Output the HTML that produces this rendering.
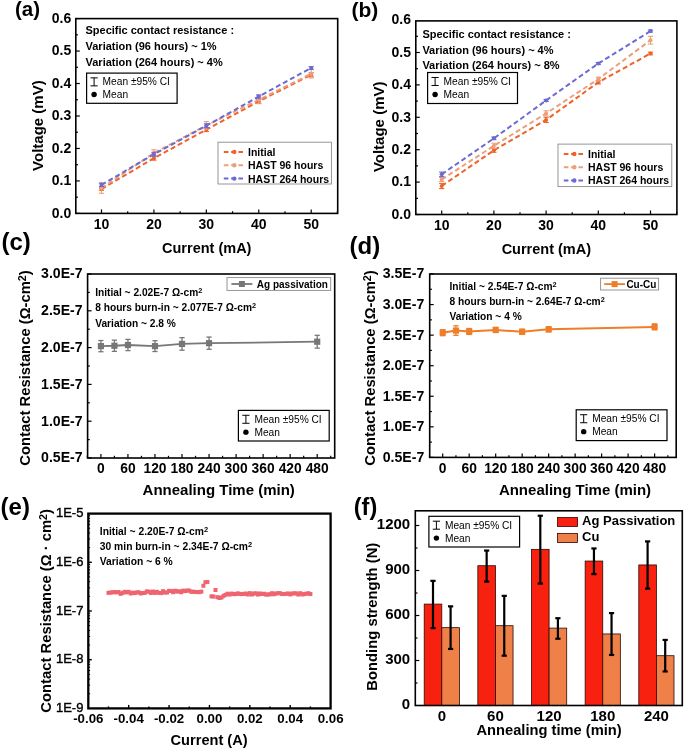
<!DOCTYPE html>
<html><head><meta charset="utf-8"><style>
html,body{margin:0;padding:0;background:#fff;width:685px;height:750px;overflow:hidden;}
body{position:relative;font-family:"Liberation Sans", sans-serif;}
</style></head><body>
<svg width="685" height="750" viewBox="0 0 685 750" style="position:absolute;left:0;top:0;will-change:transform">
<g font-family='"Liberation Sans", sans-serif'>
<path d="M101.50,189.05 L153.93,158.20 L206.35,129.63 L258.77,101.38 L311.20,74.75" fill="none" stroke="#F0622A" stroke-width="2" stroke-dasharray="5 3"/>
<path d="M101.50,188.07 L153.93,153.01 L206.35,125.41 L258.77,99.76 L311.20,73.78" fill="none" stroke="#EBA07C" stroke-width="2" stroke-dasharray="5 3"/>
<path d="M101.50,184.83 L153.93,154.30 L206.35,125.73 L258.77,96.51 L311.20,67.93" fill="none" stroke="#6A6AD2" stroke-width="2" stroke-dasharray="5 3"/>
<line x1="101.50" y1="187.75" x2="101.50" y2="190.35" stroke="#F0622A" stroke-width="1.1" />
<line x1="98.90" y1="187.75" x2="104.10" y2="187.75" stroke="#F0622A" stroke-width="1.1" />
<line x1="98.90" y1="190.35" x2="104.10" y2="190.35" stroke="#F0622A" stroke-width="1.1" />
<circle cx="101.50" cy="189.05" r="2" fill="#F0622A"/>
<line x1="153.93" y1="156.25" x2="153.93" y2="160.15" stroke="#F0622A" stroke-width="1.1" />
<line x1="151.33" y1="156.25" x2="156.53" y2="156.25" stroke="#F0622A" stroke-width="1.1" />
<line x1="151.33" y1="160.15" x2="156.53" y2="160.15" stroke="#F0622A" stroke-width="1.1" />
<circle cx="153.93" cy="158.20" r="2" fill="#F0622A"/>
<line x1="206.35" y1="127.68" x2="206.35" y2="131.58" stroke="#F0622A" stroke-width="1.1" />
<line x1="203.75" y1="127.68" x2="208.95" y2="127.68" stroke="#F0622A" stroke-width="1.1" />
<line x1="203.75" y1="131.58" x2="208.95" y2="131.58" stroke="#F0622A" stroke-width="1.1" />
<circle cx="206.35" cy="129.63" r="2" fill="#F0622A"/>
<line x1="258.77" y1="99.43" x2="258.77" y2="103.33" stroke="#F0622A" stroke-width="1.1" />
<line x1="256.17" y1="99.43" x2="261.38" y2="99.43" stroke="#F0622A" stroke-width="1.1" />
<line x1="256.17" y1="103.33" x2="261.38" y2="103.33" stroke="#F0622A" stroke-width="1.1" />
<circle cx="258.77" cy="101.38" r="2" fill="#F0622A"/>
<line x1="311.20" y1="72.80" x2="311.20" y2="76.70" stroke="#F0622A" stroke-width="1.1" />
<line x1="308.60" y1="72.80" x2="313.80" y2="72.80" stroke="#F0622A" stroke-width="1.1" />
<line x1="308.60" y1="76.70" x2="313.80" y2="76.70" stroke="#F0622A" stroke-width="1.1" />
<circle cx="311.20" cy="74.75" r="2" fill="#F0622A"/>
<line x1="101.50" y1="182.88" x2="101.50" y2="193.27" stroke="#EBA07C" stroke-width="1.1" />
<line x1="98.90" y1="182.88" x2="104.10" y2="182.88" stroke="#EBA07C" stroke-width="1.1" />
<line x1="98.90" y1="193.27" x2="104.10" y2="193.27" stroke="#EBA07C" stroke-width="1.1" />
<circle cx="101.50" cy="188.07" r="2" fill="#EBA07C"/>
<line x1="153.93" y1="149.76" x2="153.93" y2="156.25" stroke="#EBA07C" stroke-width="1.1" />
<line x1="151.33" y1="149.76" x2="156.53" y2="149.76" stroke="#EBA07C" stroke-width="1.1" />
<line x1="151.33" y1="156.25" x2="156.53" y2="156.25" stroke="#EBA07C" stroke-width="1.1" />
<circle cx="153.93" cy="153.01" r="2" fill="#EBA07C"/>
<line x1="206.35" y1="121.51" x2="206.35" y2="129.30" stroke="#EBA07C" stroke-width="1.1" />
<line x1="203.75" y1="121.51" x2="208.95" y2="121.51" stroke="#EBA07C" stroke-width="1.1" />
<line x1="203.75" y1="129.30" x2="208.95" y2="129.30" stroke="#EBA07C" stroke-width="1.1" />
<circle cx="206.35" cy="125.41" r="2" fill="#EBA07C"/>
<line x1="258.77" y1="95.86" x2="258.77" y2="103.65" stroke="#EBA07C" stroke-width="1.1" />
<line x1="256.17" y1="95.86" x2="261.38" y2="95.86" stroke="#EBA07C" stroke-width="1.1" />
<line x1="256.17" y1="103.65" x2="261.38" y2="103.65" stroke="#EBA07C" stroke-width="1.1" />
<circle cx="258.77" cy="99.76" r="2" fill="#EBA07C"/>
<line x1="311.20" y1="69.56" x2="311.20" y2="78.00" stroke="#EBA07C" stroke-width="1.1" />
<line x1="308.60" y1="69.56" x2="313.80" y2="69.56" stroke="#EBA07C" stroke-width="1.1" />
<line x1="308.60" y1="78.00" x2="313.80" y2="78.00" stroke="#EBA07C" stroke-width="1.1" />
<circle cx="311.20" cy="73.78" r="2" fill="#EBA07C"/>
<line x1="101.50" y1="183.20" x2="101.50" y2="186.45" stroke="#6A6AD2" stroke-width="1.1" />
<line x1="98.90" y1="183.20" x2="104.10" y2="183.20" stroke="#6A6AD2" stroke-width="1.1" />
<line x1="98.90" y1="186.45" x2="104.10" y2="186.45" stroke="#6A6AD2" stroke-width="1.1" />
<circle cx="101.50" cy="184.83" r="2" fill="#6A6AD2"/>
<line x1="153.93" y1="152.36" x2="153.93" y2="156.25" stroke="#6A6AD2" stroke-width="1.1" />
<line x1="151.33" y1="152.36" x2="156.53" y2="152.36" stroke="#6A6AD2" stroke-width="1.1" />
<line x1="151.33" y1="156.25" x2="156.53" y2="156.25" stroke="#6A6AD2" stroke-width="1.1" />
<circle cx="153.93" cy="154.30" r="2" fill="#6A6AD2"/>
<line x1="206.35" y1="123.78" x2="206.35" y2="127.68" stroke="#6A6AD2" stroke-width="1.1" />
<line x1="203.75" y1="123.78" x2="208.95" y2="123.78" stroke="#6A6AD2" stroke-width="1.1" />
<line x1="203.75" y1="127.68" x2="208.95" y2="127.68" stroke="#6A6AD2" stroke-width="1.1" />
<circle cx="206.35" cy="125.73" r="2" fill="#6A6AD2"/>
<line x1="258.77" y1="94.88" x2="258.77" y2="98.13" stroke="#6A6AD2" stroke-width="1.1" />
<line x1="256.17" y1="94.88" x2="261.38" y2="94.88" stroke="#6A6AD2" stroke-width="1.1" />
<line x1="256.17" y1="98.13" x2="261.38" y2="98.13" stroke="#6A6AD2" stroke-width="1.1" />
<circle cx="258.77" cy="96.51" r="2" fill="#6A6AD2"/>
<line x1="311.20" y1="66.64" x2="311.20" y2="69.23" stroke="#6A6AD2" stroke-width="1.1" />
<line x1="308.60" y1="66.64" x2="313.80" y2="66.64" stroke="#6A6AD2" stroke-width="1.1" />
<line x1="308.60" y1="69.23" x2="313.80" y2="69.23" stroke="#6A6AD2" stroke-width="1.1" />
<circle cx="311.20" cy="67.93" r="2" fill="#6A6AD2"/>
<rect x="75.80" y="18.60" width="261.90" height="194.80" fill="none" stroke="#000" stroke-width="1.6" />
<line x1="75.80" y1="213.40" x2="79.80" y2="213.40" stroke="#000" stroke-width="1.2" />
<line x1="75.80" y1="197.17" x2="78.00" y2="197.17" stroke="#000" stroke-width="1.2" />
<line x1="75.80" y1="180.93" x2="79.80" y2="180.93" stroke="#000" stroke-width="1.2" />
<line x1="75.80" y1="164.69" x2="78.00" y2="164.69" stroke="#000" stroke-width="1.2" />
<line x1="75.80" y1="148.46" x2="79.80" y2="148.46" stroke="#000" stroke-width="1.2" />
<line x1="75.80" y1="132.23" x2="78.00" y2="132.23" stroke="#000" stroke-width="1.2" />
<line x1="75.80" y1="115.99" x2="79.80" y2="115.99" stroke="#000" stroke-width="1.2" />
<line x1="75.80" y1="99.75" x2="78.00" y2="99.75" stroke="#000" stroke-width="1.2" />
<line x1="75.80" y1="83.52" x2="79.80" y2="83.52" stroke="#000" stroke-width="1.2" />
<line x1="75.80" y1="67.29" x2="78.00" y2="67.29" stroke="#000" stroke-width="1.2" />
<line x1="75.80" y1="51.05" x2="79.80" y2="51.05" stroke="#000" stroke-width="1.2" />
<line x1="75.80" y1="34.82" x2="78.00" y2="34.82" stroke="#000" stroke-width="1.2" />
<line x1="75.80" y1="18.58" x2="79.80" y2="18.58" stroke="#000" stroke-width="1.2" />
<line x1="101.50" y1="213.40" x2="101.50" y2="209.40" stroke="#000" stroke-width="1.2" />
<line x1="127.71" y1="213.40" x2="127.71" y2="211.20" stroke="#000" stroke-width="1.2" />
<line x1="153.93" y1="213.40" x2="153.93" y2="209.40" stroke="#000" stroke-width="1.2" />
<line x1="180.14" y1="213.40" x2="180.14" y2="211.20" stroke="#000" stroke-width="1.2" />
<line x1="206.35" y1="213.40" x2="206.35" y2="209.40" stroke="#000" stroke-width="1.2" />
<line x1="232.56" y1="213.40" x2="232.56" y2="211.20" stroke="#000" stroke-width="1.2" />
<line x1="258.77" y1="213.40" x2="258.77" y2="209.40" stroke="#000" stroke-width="1.2" />
<line x1="284.99" y1="213.40" x2="284.99" y2="211.20" stroke="#000" stroke-width="1.2" />
<line x1="311.20" y1="213.40" x2="311.20" y2="209.40" stroke="#000" stroke-width="1.2" />
<line x1="337.41" y1="213.40" x2="337.41" y2="211.20" stroke="#000" stroke-width="1.2" />
<text x="71.20" y="217.60" font-size="14" font-weight="bold" text-anchor="end" fill="#000" >0.0</text>
<text x="71.20" y="185.13" font-size="14" font-weight="bold" text-anchor="end" fill="#000" >0.1</text>
<text x="71.20" y="152.66" font-size="14" font-weight="bold" text-anchor="end" fill="#000" >0.2</text>
<text x="71.20" y="120.19" font-size="14" font-weight="bold" text-anchor="end" fill="#000" >0.3</text>
<text x="71.20" y="87.72" font-size="14" font-weight="bold" text-anchor="end" fill="#000" >0.4</text>
<text x="71.20" y="55.25" font-size="14" font-weight="bold" text-anchor="end" fill="#000" >0.5</text>
<text x="71.20" y="22.78" font-size="14" font-weight="bold" text-anchor="end" fill="#000" >0.6</text>
<text x="101.50" y="229.00" font-size="14" font-weight="bold" text-anchor="middle" fill="#000" >10</text>
<text x="153.93" y="229.00" font-size="14" font-weight="bold" text-anchor="middle" fill="#000" >20</text>
<text x="206.35" y="229.00" font-size="14" font-weight="bold" text-anchor="middle" fill="#000" >30</text>
<text x="258.77" y="229.00" font-size="14" font-weight="bold" text-anchor="middle" fill="#000" >40</text>
<text x="311.20" y="229.00" font-size="14" font-weight="bold" text-anchor="middle" fill="#000" >50</text>
<text x="206.75" y="252.70" font-size="14.5" font-weight="bold" text-anchor="middle" fill="#000" >Current (mA)</text>
<text x="43.30" y="125.60" font-size="15" font-weight="bold" text-anchor="middle" fill="#000" transform="rotate(-90 43.3 125.6)" >Voltage (mV)</text>
<text x="15.00" y="15.60" font-size="20.5" font-weight="bold" text-anchor="start" fill="#000" >(a)</text>
<text x="85.50" y="34.30" font-size="11" font-weight="bold" text-anchor="start" fill="#000" >Specific contact resistance :</text>
<text x="85.50" y="50.10" font-size="11" font-weight="bold" text-anchor="start" fill="#000" >Variation (96 hours) ~ 1%</text>
<text x="85.50" y="65.80" font-size="11" font-weight="bold" text-anchor="start" fill="#000" >Variation (264 hours) ~ 4%</text>
<rect x="86.60" y="73.10" width="90.50" height="30.20" fill="#fff" stroke="#000" stroke-width="1.2" />
<line x1="94.10" y1="77.86" x2="94.10" y2="85.86" stroke="#000" stroke-width="1" />
<line x1="90.50" y1="77.86" x2="97.70" y2="77.86" stroke="#000" stroke-width="1" />
<line x1="90.50" y1="85.86" x2="97.70" y2="85.86" stroke="#000" stroke-width="1" />
<circle cx="94.10" cy="94.54" r="2.7" fill="#000"/>
<text x="102.60" y="85.46" font-size="10.2"  text-anchor="start" fill="#000" >Mean ±95% CI</text>
<text x="102.60" y="98.14" font-size="10.2"  text-anchor="start" fill="#000" >Mean</text>
<rect x="218.00" y="142.20" width="113.40" height="41.80" fill="#fff" stroke="#8a8a8a" stroke-width="0.9" />
<path d="M223.80,151.90 H243.80" stroke="#F0622A" stroke-width="2" stroke-dasharray="4.6 2.7"/>
<circle cx="234.30" cy="151.90" r="2.2" fill="#F0622A"/>
<text x="248.00" y="155.80" font-size="10.5" font-weight="bold" text-anchor="start" fill="#000" >Initial</text>
<path d="M223.80,165.30 H243.80" stroke="#EBA07C" stroke-width="2" stroke-dasharray="4.6 2.7"/>
<circle cx="234.30" cy="165.30" r="2.2" fill="#EBA07C"/>
<text x="248.00" y="169.20" font-size="10.5" font-weight="bold" text-anchor="start" fill="#000" >HAST 96 hours</text>
<path d="M223.80,178.60 H243.80" stroke="#6A6AD2" stroke-width="2" stroke-dasharray="4.6 2.7"/>
<circle cx="234.30" cy="178.60" r="2.2" fill="#6A6AD2"/>
<text x="248.00" y="182.50" font-size="10.5" font-weight="bold" text-anchor="start" fill="#000" >HAST 264 hours</text>
<path d="M441.70,185.99 L493.90,150.35 L546.10,119.89 L598.30,82.31 L650.50,53.47" fill="none" stroke="#F0622A" stroke-width="2" stroke-dasharray="5 3"/>
<path d="M441.70,179.51 L493.90,145.81 L546.10,113.41 L598.30,79.07 L650.50,40.19" fill="none" stroke="#EBA07C" stroke-width="2" stroke-dasharray="5 3"/>
<path d="M441.70,174.32 L493.90,138.36 L546.10,100.45 L598.30,63.52 L650.50,31.12" fill="none" stroke="#6A6AD2" stroke-width="2" stroke-dasharray="5 3"/>
<line x1="441.70" y1="183.40" x2="441.70" y2="188.58" stroke="#F0622A" stroke-width="1.1" />
<line x1="439.10" y1="183.40" x2="444.30" y2="183.40" stroke="#F0622A" stroke-width="1.1" />
<line x1="439.10" y1="188.58" x2="444.30" y2="188.58" stroke="#F0622A" stroke-width="1.1" />
<circle cx="441.70" cy="185.99" r="2" fill="#F0622A"/>
<line x1="493.90" y1="148.40" x2="493.90" y2="152.29" stroke="#F0622A" stroke-width="1.1" />
<line x1="491.30" y1="148.40" x2="496.50" y2="148.40" stroke="#F0622A" stroke-width="1.1" />
<line x1="491.30" y1="152.29" x2="496.50" y2="152.29" stroke="#F0622A" stroke-width="1.1" />
<circle cx="493.90" cy="150.35" r="2" fill="#F0622A"/>
<line x1="546.10" y1="117.30" x2="546.10" y2="122.48" stroke="#F0622A" stroke-width="1.1" />
<line x1="543.50" y1="117.30" x2="548.70" y2="117.30" stroke="#F0622A" stroke-width="1.1" />
<line x1="543.50" y1="122.48" x2="548.70" y2="122.48" stroke="#F0622A" stroke-width="1.1" />
<circle cx="546.10" cy="119.89" r="2" fill="#F0622A"/>
<line x1="598.30" y1="80.69" x2="598.30" y2="83.93" stroke="#F0622A" stroke-width="1.1" />
<line x1="595.70" y1="80.69" x2="600.90" y2="80.69" stroke="#F0622A" stroke-width="1.1" />
<line x1="595.70" y1="83.93" x2="600.90" y2="83.93" stroke="#F0622A" stroke-width="1.1" />
<circle cx="598.30" cy="82.31" r="2" fill="#F0622A"/>
<line x1="650.50" y1="52.18" x2="650.50" y2="54.77" stroke="#F0622A" stroke-width="1.1" />
<line x1="647.90" y1="52.18" x2="653.10" y2="52.18" stroke="#F0622A" stroke-width="1.1" />
<line x1="647.90" y1="54.77" x2="653.10" y2="54.77" stroke="#F0622A" stroke-width="1.1" />
<circle cx="650.50" cy="53.47" r="2" fill="#F0622A"/>
<line x1="441.70" y1="177.56" x2="441.70" y2="181.45" stroke="#EBA07C" stroke-width="1.1" />
<line x1="439.10" y1="177.56" x2="444.30" y2="177.56" stroke="#EBA07C" stroke-width="1.1" />
<line x1="439.10" y1="181.45" x2="444.30" y2="181.45" stroke="#EBA07C" stroke-width="1.1" />
<circle cx="441.70" cy="179.51" r="2" fill="#EBA07C"/>
<line x1="493.90" y1="143.22" x2="493.90" y2="148.40" stroke="#EBA07C" stroke-width="1.1" />
<line x1="491.30" y1="143.22" x2="496.50" y2="143.22" stroke="#EBA07C" stroke-width="1.1" />
<line x1="491.30" y1="148.40" x2="496.50" y2="148.40" stroke="#EBA07C" stroke-width="1.1" />
<circle cx="493.90" cy="145.81" r="2" fill="#EBA07C"/>
<line x1="546.10" y1="110.82" x2="546.10" y2="116.00" stroke="#EBA07C" stroke-width="1.1" />
<line x1="543.50" y1="110.82" x2="548.70" y2="110.82" stroke="#EBA07C" stroke-width="1.1" />
<line x1="543.50" y1="116.00" x2="548.70" y2="116.00" stroke="#EBA07C" stroke-width="1.1" />
<circle cx="546.10" cy="113.41" r="2" fill="#EBA07C"/>
<line x1="598.30" y1="77.12" x2="598.30" y2="81.01" stroke="#EBA07C" stroke-width="1.1" />
<line x1="595.70" y1="77.12" x2="600.90" y2="77.12" stroke="#EBA07C" stroke-width="1.1" />
<line x1="595.70" y1="81.01" x2="600.90" y2="81.01" stroke="#EBA07C" stroke-width="1.1" />
<circle cx="598.30" cy="79.07" r="2" fill="#EBA07C"/>
<line x1="650.50" y1="36.30" x2="650.50" y2="44.08" stroke="#EBA07C" stroke-width="1.1" />
<line x1="647.90" y1="36.30" x2="653.10" y2="36.30" stroke="#EBA07C" stroke-width="1.1" />
<line x1="647.90" y1="44.08" x2="653.10" y2="44.08" stroke="#EBA07C" stroke-width="1.1" />
<circle cx="650.50" cy="40.19" r="2" fill="#EBA07C"/>
<line x1="441.70" y1="172.06" x2="441.70" y2="176.59" stroke="#6A6AD2" stroke-width="1.1" />
<line x1="439.10" y1="172.06" x2="444.30" y2="172.06" stroke="#6A6AD2" stroke-width="1.1" />
<line x1="439.10" y1="176.59" x2="444.30" y2="176.59" stroke="#6A6AD2" stroke-width="1.1" />
<circle cx="441.70" cy="174.32" r="2" fill="#6A6AD2"/>
<line x1="493.90" y1="137.06" x2="493.90" y2="139.66" stroke="#6A6AD2" stroke-width="1.1" />
<line x1="491.30" y1="137.06" x2="496.50" y2="137.06" stroke="#6A6AD2" stroke-width="1.1" />
<line x1="491.30" y1="139.66" x2="496.50" y2="139.66" stroke="#6A6AD2" stroke-width="1.1" />
<circle cx="493.90" cy="138.36" r="2" fill="#6A6AD2"/>
<line x1="546.10" y1="99.48" x2="546.10" y2="101.42" stroke="#6A6AD2" stroke-width="1.1" />
<line x1="543.50" y1="99.48" x2="548.70" y2="99.48" stroke="#6A6AD2" stroke-width="1.1" />
<line x1="543.50" y1="101.42" x2="548.70" y2="101.42" stroke="#6A6AD2" stroke-width="1.1" />
<circle cx="546.10" cy="100.45" r="2" fill="#6A6AD2"/>
<line x1="598.30" y1="62.54" x2="598.30" y2="64.49" stroke="#6A6AD2" stroke-width="1.1" />
<line x1="595.70" y1="62.54" x2="600.90" y2="62.54" stroke="#6A6AD2" stroke-width="1.1" />
<line x1="595.70" y1="64.49" x2="600.90" y2="64.49" stroke="#6A6AD2" stroke-width="1.1" />
<circle cx="598.30" cy="63.52" r="2" fill="#6A6AD2"/>
<line x1="650.50" y1="30.14" x2="650.50" y2="32.09" stroke="#6A6AD2" stroke-width="1.1" />
<line x1="647.90" y1="30.14" x2="653.10" y2="30.14" stroke="#6A6AD2" stroke-width="1.1" />
<line x1="647.90" y1="32.09" x2="653.10" y2="32.09" stroke="#6A6AD2" stroke-width="1.1" />
<circle cx="650.50" cy="31.12" r="2" fill="#6A6AD2"/>
<rect x="415.80" y="20.90" width="261.10" height="193.60" fill="none" stroke="#000" stroke-width="1.6" />
<line x1="415.80" y1="214.50" x2="419.80" y2="214.50" stroke="#000" stroke-width="1.2" />
<line x1="415.80" y1="198.30" x2="418.00" y2="198.30" stroke="#000" stroke-width="1.2" />
<line x1="415.80" y1="182.10" x2="419.80" y2="182.10" stroke="#000" stroke-width="1.2" />
<line x1="415.80" y1="165.90" x2="418.00" y2="165.90" stroke="#000" stroke-width="1.2" />
<line x1="415.80" y1="149.70" x2="419.80" y2="149.70" stroke="#000" stroke-width="1.2" />
<line x1="415.80" y1="133.50" x2="418.00" y2="133.50" stroke="#000" stroke-width="1.2" />
<line x1="415.80" y1="117.30" x2="419.80" y2="117.30" stroke="#000" stroke-width="1.2" />
<line x1="415.80" y1="101.10" x2="418.00" y2="101.10" stroke="#000" stroke-width="1.2" />
<line x1="415.80" y1="84.90" x2="419.80" y2="84.90" stroke="#000" stroke-width="1.2" />
<line x1="415.80" y1="68.70" x2="418.00" y2="68.70" stroke="#000" stroke-width="1.2" />
<line x1="415.80" y1="52.50" x2="419.80" y2="52.50" stroke="#000" stroke-width="1.2" />
<line x1="415.80" y1="36.30" x2="418.00" y2="36.30" stroke="#000" stroke-width="1.2" />
<line x1="415.60" y1="214.50" x2="415.60" y2="212.30" stroke="#000" stroke-width="1.2" />
<line x1="441.70" y1="214.50" x2="441.70" y2="210.50" stroke="#000" stroke-width="1.2" />
<line x1="467.80" y1="214.50" x2="467.80" y2="212.30" stroke="#000" stroke-width="1.2" />
<line x1="493.90" y1="214.50" x2="493.90" y2="210.50" stroke="#000" stroke-width="1.2" />
<line x1="520.00" y1="214.50" x2="520.00" y2="212.30" stroke="#000" stroke-width="1.2" />
<line x1="546.10" y1="214.50" x2="546.10" y2="210.50" stroke="#000" stroke-width="1.2" />
<line x1="572.20" y1="214.50" x2="572.20" y2="212.30" stroke="#000" stroke-width="1.2" />
<line x1="598.30" y1="214.50" x2="598.30" y2="210.50" stroke="#000" stroke-width="1.2" />
<line x1="624.40" y1="214.50" x2="624.40" y2="212.30" stroke="#000" stroke-width="1.2" />
<line x1="650.50" y1="214.50" x2="650.50" y2="210.50" stroke="#000" stroke-width="1.2" />
<line x1="676.60" y1="214.50" x2="676.60" y2="212.30" stroke="#000" stroke-width="1.2" />
<text x="411.00" y="218.70" font-size="14" font-weight="bold" text-anchor="end" fill="#000" >0.0</text>
<text x="411.00" y="186.30" font-size="14" font-weight="bold" text-anchor="end" fill="#000" >0.1</text>
<text x="411.00" y="153.90" font-size="14" font-weight="bold" text-anchor="end" fill="#000" >0.2</text>
<text x="411.00" y="121.50" font-size="14" font-weight="bold" text-anchor="end" fill="#000" >0.3</text>
<text x="411.00" y="89.10" font-size="14" font-weight="bold" text-anchor="end" fill="#000" >0.4</text>
<text x="411.00" y="56.70" font-size="14" font-weight="bold" text-anchor="end" fill="#000" >0.5</text>
<text x="411.00" y="24.30" font-size="14" font-weight="bold" text-anchor="end" fill="#000" >0.6</text>
<text x="441.70" y="230.00" font-size="14" font-weight="bold" text-anchor="middle" fill="#000" >10</text>
<text x="493.90" y="230.00" font-size="14" font-weight="bold" text-anchor="middle" fill="#000" >20</text>
<text x="546.10" y="230.00" font-size="14" font-weight="bold" text-anchor="middle" fill="#000" >30</text>
<text x="598.30" y="230.00" font-size="14" font-weight="bold" text-anchor="middle" fill="#000" >40</text>
<text x="650.50" y="230.00" font-size="14" font-weight="bold" text-anchor="middle" fill="#000" >50</text>
<text x="546.35" y="253.50" font-size="14.5" font-weight="bold" text-anchor="middle" fill="#000" >Current (mA)</text>
<text x="384.00" y="126.80" font-size="15" font-weight="bold" text-anchor="middle" fill="#000" transform="rotate(-90 384 126.8)" >Voltage (mV)</text>
<text x="351.50" y="16.50" font-size="21" font-weight="bold" text-anchor="start" fill="#000" >(b)</text>
<text x="422.40" y="37.90" font-size="11" font-weight="bold" text-anchor="start" fill="#000" >Specific contact resistance :</text>
<text x="422.40" y="53.60" font-size="11" font-weight="bold" text-anchor="start" fill="#000" >Variation (96 hours) ~ 4%</text>
<text x="422.40" y="69.40" font-size="11" font-weight="bold" text-anchor="start" fill="#000" >Variation (264 hours) ~ 8%</text>
<rect x="427.60" y="72.50" width="89.90" height="31.00" fill="#fff" stroke="#000" stroke-width="1.2" />
<line x1="435.10" y1="77.49" x2="435.10" y2="85.49" stroke="#000" stroke-width="1" />
<line x1="431.50" y1="77.49" x2="438.70" y2="77.49" stroke="#000" stroke-width="1" />
<line x1="431.50" y1="85.49" x2="438.70" y2="85.49" stroke="#000" stroke-width="1" />
<circle cx="435.10" cy="94.51" r="2.7" fill="#000"/>
<text x="443.60" y="85.09" font-size="10.2"  text-anchor="start" fill="#000" >Mean ±95% CI</text>
<text x="443.60" y="98.11" font-size="10.2"  text-anchor="start" fill="#000" >Mean</text>
<rect x="558.00" y="144.10" width="113.80" height="42.50" fill="#fff" stroke="#8a8a8a" stroke-width="0.9" />
<path d="M563.80,154.00 H583.80" stroke="#F0622A" stroke-width="2" stroke-dasharray="4.6 2.7"/>
<circle cx="574.30" cy="154.00" r="2.2" fill="#F0622A"/>
<text x="588.00" y="157.90" font-size="10.5" font-weight="bold" text-anchor="start" fill="#000" >Initial</text>
<path d="M563.80,167.30 H583.80" stroke="#EBA07C" stroke-width="2" stroke-dasharray="4.6 2.7"/>
<circle cx="574.30" cy="167.30" r="2.2" fill="#EBA07C"/>
<text x="588.00" y="171.20" font-size="10.5" font-weight="bold" text-anchor="start" fill="#000" >HAST 96 hours</text>
<path d="M563.80,180.50 H583.80" stroke="#6A6AD2" stroke-width="2" stroke-dasharray="4.6 2.7"/>
<circle cx="574.30" cy="180.50" r="2.2" fill="#6A6AD2"/>
<text x="588.00" y="184.40" font-size="10.5" font-weight="bold" text-anchor="start" fill="#000" >HAST 264 hours</text>
<path d="M100.90,346.13 L114.42,345.76 L127.94,345.02 L154.97,346.13 L182.01,343.92 L209.05,343.18 L317.20,341.71" fill="none" stroke="#777777" stroke-width="1.8"/>
<line x1="100.90" y1="340.53" x2="100.90" y2="351.73" stroke="#777777" stroke-width="1.3" />
<line x1="98.30" y1="340.53" x2="103.50" y2="340.53" stroke="#777777" stroke-width="1.3" />
<line x1="98.30" y1="351.73" x2="103.50" y2="351.73" stroke="#777777" stroke-width="1.3" />
<rect x="97.80" y="343.03" width="6.2" height="6.2" fill="#777777"/>
<line x1="114.42" y1="340.16" x2="114.42" y2="351.36" stroke="#777777" stroke-width="1.3" />
<line x1="111.82" y1="340.16" x2="117.02" y2="340.16" stroke="#777777" stroke-width="1.3" />
<line x1="111.82" y1="351.36" x2="117.02" y2="351.36" stroke="#777777" stroke-width="1.3" />
<rect x="111.32" y="342.66" width="6.2" height="6.2" fill="#777777"/>
<line x1="127.94" y1="339.42" x2="127.94" y2="350.62" stroke="#777777" stroke-width="1.3" />
<line x1="125.34" y1="339.42" x2="130.54" y2="339.42" stroke="#777777" stroke-width="1.3" />
<line x1="125.34" y1="350.62" x2="130.54" y2="350.62" stroke="#777777" stroke-width="1.3" />
<rect x="124.84" y="341.92" width="6.2" height="6.2" fill="#777777"/>
<line x1="154.97" y1="340.73" x2="154.97" y2="351.53" stroke="#777777" stroke-width="1.3" />
<line x1="152.38" y1="340.73" x2="157.57" y2="340.73" stroke="#777777" stroke-width="1.3" />
<line x1="152.38" y1="351.53" x2="157.57" y2="351.53" stroke="#777777" stroke-width="1.3" />
<rect x="151.88" y="343.03" width="6.2" height="6.2" fill="#777777"/>
<line x1="182.01" y1="337.62" x2="182.01" y2="350.22" stroke="#777777" stroke-width="1.3" />
<line x1="179.41" y1="337.62" x2="184.61" y2="337.62" stroke="#777777" stroke-width="1.3" />
<line x1="179.41" y1="350.22" x2="184.61" y2="350.22" stroke="#777777" stroke-width="1.3" />
<rect x="178.91" y="340.82" width="6.2" height="6.2" fill="#777777"/>
<line x1="209.05" y1="337.08" x2="209.05" y2="349.28" stroke="#777777" stroke-width="1.3" />
<line x1="206.45" y1="337.08" x2="211.65" y2="337.08" stroke="#777777" stroke-width="1.3" />
<line x1="206.45" y1="349.28" x2="211.65" y2="349.28" stroke="#777777" stroke-width="1.3" />
<rect x="205.95" y="340.08" width="6.2" height="6.2" fill="#777777"/>
<line x1="317.20" y1="335.31" x2="317.20" y2="348.11" stroke="#777777" stroke-width="1.3" />
<line x1="314.60" y1="335.31" x2="319.80" y2="335.31" stroke="#777777" stroke-width="1.3" />
<line x1="314.60" y1="348.11" x2="319.80" y2="348.11" stroke="#777777" stroke-width="1.3" />
<rect x="314.10" y="338.61" width="6.2" height="6.2" fill="#777777"/>
<rect x="87.60" y="274.00" width="247.10" height="184.00" fill="none" stroke="#000" stroke-width="1.6" />
<line x1="87.60" y1="458.00" x2="91.60" y2="458.00" stroke="#000" stroke-width="1.2" />
<text x="82.60" y="462.40" font-size="14.1" font-weight="bold" text-anchor="end" fill="#000" >0.5E-7</text>
<line x1="87.60" y1="439.60" x2="89.80" y2="439.60" stroke="#000" stroke-width="1.2" />
<line x1="87.60" y1="421.20" x2="91.60" y2="421.20" stroke="#000" stroke-width="1.2" />
<text x="82.60" y="425.60" font-size="14.1" font-weight="bold" text-anchor="end" fill="#000" >1.0E-7</text>
<line x1="87.60" y1="402.80" x2="89.80" y2="402.80" stroke="#000" stroke-width="1.2" />
<line x1="87.60" y1="384.40" x2="91.60" y2="384.40" stroke="#000" stroke-width="1.2" />
<text x="82.60" y="388.80" font-size="14.1" font-weight="bold" text-anchor="end" fill="#000" >1.5E-7</text>
<line x1="87.60" y1="366.00" x2="89.80" y2="366.00" stroke="#000" stroke-width="1.2" />
<line x1="87.60" y1="347.60" x2="91.60" y2="347.60" stroke="#000" stroke-width="1.2" />
<text x="82.60" y="352.00" font-size="14.1" font-weight="bold" text-anchor="end" fill="#000" >2.0E-7</text>
<line x1="87.60" y1="329.20" x2="89.80" y2="329.20" stroke="#000" stroke-width="1.2" />
<line x1="87.60" y1="310.80" x2="91.60" y2="310.80" stroke="#000" stroke-width="1.2" />
<text x="82.60" y="315.20" font-size="14.1" font-weight="bold" text-anchor="end" fill="#000" >2.5E-7</text>
<line x1="87.60" y1="292.40" x2="89.80" y2="292.40" stroke="#000" stroke-width="1.2" />
<line x1="87.60" y1="274.00" x2="91.60" y2="274.00" stroke="#000" stroke-width="1.2" />
<text x="82.60" y="278.40" font-size="14.1" font-weight="bold" text-anchor="end" fill="#000" >3.0E-7</text>
<line x1="87.38" y1="458.00" x2="87.38" y2="455.80" stroke="#000" stroke-width="1.2" />
<line x1="100.90" y1="458.00" x2="100.90" y2="454.00" stroke="#000" stroke-width="1.2" />
<line x1="114.42" y1="458.00" x2="114.42" y2="455.80" stroke="#000" stroke-width="1.2" />
<line x1="127.94" y1="458.00" x2="127.94" y2="454.00" stroke="#000" stroke-width="1.2" />
<line x1="141.46" y1="458.00" x2="141.46" y2="455.80" stroke="#000" stroke-width="1.2" />
<line x1="154.97" y1="458.00" x2="154.97" y2="454.00" stroke="#000" stroke-width="1.2" />
<line x1="168.49" y1="458.00" x2="168.49" y2="455.80" stroke="#000" stroke-width="1.2" />
<line x1="182.01" y1="458.00" x2="182.01" y2="454.00" stroke="#000" stroke-width="1.2" />
<line x1="195.53" y1="458.00" x2="195.53" y2="455.80" stroke="#000" stroke-width="1.2" />
<line x1="209.05" y1="458.00" x2="209.05" y2="454.00" stroke="#000" stroke-width="1.2" />
<line x1="222.57" y1="458.00" x2="222.57" y2="455.80" stroke="#000" stroke-width="1.2" />
<line x1="236.09" y1="458.00" x2="236.09" y2="454.00" stroke="#000" stroke-width="1.2" />
<line x1="249.61" y1="458.00" x2="249.61" y2="455.80" stroke="#000" stroke-width="1.2" />
<line x1="263.12" y1="458.00" x2="263.12" y2="454.00" stroke="#000" stroke-width="1.2" />
<line x1="276.64" y1="458.00" x2="276.64" y2="455.80" stroke="#000" stroke-width="1.2" />
<line x1="290.16" y1="458.00" x2="290.16" y2="454.00" stroke="#000" stroke-width="1.2" />
<line x1="303.68" y1="458.00" x2="303.68" y2="455.80" stroke="#000" stroke-width="1.2" />
<line x1="317.20" y1="458.00" x2="317.20" y2="454.00" stroke="#000" stroke-width="1.2" />
<line x1="330.72" y1="458.00" x2="330.72" y2="455.80" stroke="#000" stroke-width="1.2" />
<text x="100.90" y="473.00" font-size="13.8" font-weight="bold" text-anchor="middle" fill="#000" >0</text>
<text x="127.94" y="473.00" font-size="13.8" font-weight="bold" text-anchor="middle" fill="#000" >60</text>
<text x="154.97" y="473.00" font-size="13.8" font-weight="bold" text-anchor="middle" fill="#000" >120</text>
<text x="182.01" y="473.00" font-size="13.8" font-weight="bold" text-anchor="middle" fill="#000" >180</text>
<text x="209.05" y="473.00" font-size="13.8" font-weight="bold" text-anchor="middle" fill="#000" >240</text>
<text x="236.09" y="473.00" font-size="13.8" font-weight="bold" text-anchor="middle" fill="#000" >300</text>
<text x="263.12" y="473.00" font-size="13.8" font-weight="bold" text-anchor="middle" fill="#000" >360</text>
<text x="290.16" y="473.00" font-size="13.8" font-weight="bold" text-anchor="middle" fill="#000" >420</text>
<text x="317.20" y="473.00" font-size="13.8" font-weight="bold" text-anchor="middle" fill="#000" >480</text>
<text x="218.70" y="495.30" font-size="15" font-weight="bold" text-anchor="middle" fill="#000" >Annealing Time (min)</text>
<text x="30.30" y="368.00" font-size="14.8" font-weight="bold" text-anchor="middle" fill="#000" transform="rotate(-90 30.3 368)" >Contact Resistance (Ω-cm<tspan font-size="10.66" dy="-4.44">2</tspan><tspan dy="4.44">)</tspan></text>
<text x="1.50" y="250.20" font-size="24" font-weight="bold" text-anchor="start" fill="#000" >(c)</text>
<text x="95.20" y="295.70" font-size="10.2" font-weight="bold" text-anchor="start" fill="#000" >Initial ~ 2.02E-7 Ω-cm<tspan font-size="7.34" dy="-3.06">2</tspan></text>
<text x="95.20" y="310.90" font-size="10.2" font-weight="bold" text-anchor="start" fill="#000" >8 hours burn-in ~ 2.077E-7 Ω-cm<tspan font-size="7.34" dy="-3.06">2</tspan></text>
<text x="95.20" y="326.60" font-size="10.2" font-weight="bold" text-anchor="start" fill="#000" >Variation ~ 2.8 %</text>
<rect x="238.40" y="410.40" width="90.80" height="30.60" fill="#fff" stroke="#000" stroke-width="1.2" />
<line x1="245.90" y1="415.27" x2="245.90" y2="423.27" stroke="#000" stroke-width="1" />
<line x1="242.30" y1="415.27" x2="249.50" y2="415.27" stroke="#000" stroke-width="1" />
<line x1="242.30" y1="423.27" x2="249.50" y2="423.27" stroke="#000" stroke-width="1" />
<circle cx="245.90" cy="432.13" r="2.7" fill="#000"/>
<text x="254.40" y="422.87" font-size="10.2"  text-anchor="start" fill="#000" >Mean ±95% CI</text>
<text x="254.40" y="435.73" font-size="10.2"  text-anchor="start" fill="#000" >Mean</text>
<rect x="227.00" y="277.60" width="103.70" height="12.80" fill="#fff" stroke="#8a8a8a" stroke-width="0.9" />
<line x1="231.40" y1="284.00" x2="252.40" y2="284.00" stroke="#777777" stroke-width="1.8" />
<rect x="238.90" y="281.00" width="6" height="6" fill="#777777"/>
<text x="256.80" y="287.60" font-size="10" font-weight="bold" text-anchor="start" fill="#000" >Ag passivation</text>
<path d="M442.70,332.69 L455.94,330.55 L469.19,331.47 L495.68,329.94 L522.16,331.77 L548.65,329.33 L654.60,326.88" fill="none" stroke="#F07D28" stroke-width="2"/>
<line x1="442.70" y1="329.69" x2="442.70" y2="335.69" stroke="#F07D28" stroke-width="1.3" />
<line x1="440.10" y1="329.69" x2="445.30" y2="329.69" stroke="#F07D28" stroke-width="1.3" />
<line x1="440.10" y1="335.69" x2="445.30" y2="335.69" stroke="#F07D28" stroke-width="1.3" />
<rect x="439.60" y="329.59" width="6.2" height="6.2" fill="#F07D28"/>
<line x1="455.94" y1="325.75" x2="455.94" y2="335.35" stroke="#F07D28" stroke-width="1.3" />
<line x1="453.34" y1="325.75" x2="458.54" y2="325.75" stroke="#F07D28" stroke-width="1.3" />
<line x1="453.34" y1="335.35" x2="458.54" y2="335.35" stroke="#F07D28" stroke-width="1.3" />
<rect x="452.84" y="327.45" width="6.2" height="6.2" fill="#F07D28"/>
<line x1="469.19" y1="328.47" x2="469.19" y2="334.47" stroke="#F07D28" stroke-width="1.3" />
<line x1="466.59" y1="328.47" x2="471.79" y2="328.47" stroke="#F07D28" stroke-width="1.3" />
<line x1="466.59" y1="334.47" x2="471.79" y2="334.47" stroke="#F07D28" stroke-width="1.3" />
<rect x="466.09" y="328.37" width="6.2" height="6.2" fill="#F07D28"/>
<line x1="495.68" y1="327.44" x2="495.68" y2="332.44" stroke="#F07D28" stroke-width="1.3" />
<line x1="493.07" y1="327.44" x2="498.28" y2="327.44" stroke="#F07D28" stroke-width="1.3" />
<line x1="493.07" y1="332.44" x2="498.28" y2="332.44" stroke="#F07D28" stroke-width="1.3" />
<rect x="492.57" y="326.84" width="6.2" height="6.2" fill="#F07D28"/>
<line x1="522.16" y1="329.27" x2="522.16" y2="334.27" stroke="#F07D28" stroke-width="1.3" />
<line x1="519.56" y1="329.27" x2="524.76" y2="329.27" stroke="#F07D28" stroke-width="1.3" />
<line x1="519.56" y1="334.27" x2="524.76" y2="334.27" stroke="#F07D28" stroke-width="1.3" />
<rect x="519.06" y="328.67" width="6.2" height="6.2" fill="#F07D28"/>
<line x1="548.65" y1="326.83" x2="548.65" y2="331.83" stroke="#F07D28" stroke-width="1.3" />
<line x1="546.05" y1="326.83" x2="551.25" y2="326.83" stroke="#F07D28" stroke-width="1.3" />
<line x1="546.05" y1="331.83" x2="551.25" y2="331.83" stroke="#F07D28" stroke-width="1.3" />
<rect x="545.55" y="326.23" width="6.2" height="6.2" fill="#F07D28"/>
<line x1="654.60" y1="323.88" x2="654.60" y2="329.88" stroke="#F07D28" stroke-width="1.3" />
<line x1="652.00" y1="323.88" x2="657.20" y2="323.88" stroke="#F07D28" stroke-width="1.3" />
<line x1="652.00" y1="329.88" x2="657.20" y2="329.88" stroke="#F07D28" stroke-width="1.3" />
<rect x="651.50" y="323.78" width="6.2" height="6.2" fill="#F07D28"/>
<rect x="429.70" y="274.00" width="246.50" height="183.40" fill="none" stroke="#000" stroke-width="1.6" />
<line x1="429.70" y1="457.40" x2="433.70" y2="457.40" stroke="#000" stroke-width="1.2" />
<text x="424.30" y="461.80" font-size="14.1" font-weight="bold" text-anchor="end" fill="#000" >0.5E-7</text>
<line x1="429.70" y1="442.12" x2="431.90" y2="442.12" stroke="#000" stroke-width="1.2" />
<line x1="429.70" y1="426.83" x2="433.70" y2="426.83" stroke="#000" stroke-width="1.2" />
<text x="424.30" y="431.23" font-size="14.1" font-weight="bold" text-anchor="end" fill="#000" >1.0E-7</text>
<line x1="429.70" y1="411.55" x2="431.90" y2="411.55" stroke="#000" stroke-width="1.2" />
<line x1="429.70" y1="396.27" x2="433.70" y2="396.27" stroke="#000" stroke-width="1.2" />
<text x="424.30" y="400.67" font-size="14.1" font-weight="bold" text-anchor="end" fill="#000" >1.5E-7</text>
<line x1="429.70" y1="380.98" x2="431.90" y2="380.98" stroke="#000" stroke-width="1.2" />
<line x1="429.70" y1="365.70" x2="433.70" y2="365.70" stroke="#000" stroke-width="1.2" />
<text x="424.30" y="370.10" font-size="14.1" font-weight="bold" text-anchor="end" fill="#000" >2.0E-7</text>
<line x1="429.70" y1="350.42" x2="431.90" y2="350.42" stroke="#000" stroke-width="1.2" />
<line x1="429.70" y1="335.13" x2="433.70" y2="335.13" stroke="#000" stroke-width="1.2" />
<text x="424.30" y="339.53" font-size="14.1" font-weight="bold" text-anchor="end" fill="#000" >2.5E-7</text>
<line x1="429.70" y1="319.85" x2="431.90" y2="319.85" stroke="#000" stroke-width="1.2" />
<line x1="429.70" y1="304.57" x2="433.70" y2="304.57" stroke="#000" stroke-width="1.2" />
<text x="424.30" y="308.97" font-size="14.1" font-weight="bold" text-anchor="end" fill="#000" >3.0E-7</text>
<line x1="429.70" y1="289.28" x2="431.90" y2="289.28" stroke="#000" stroke-width="1.2" />
<line x1="429.70" y1="274.00" x2="433.70" y2="274.00" stroke="#000" stroke-width="1.2" />
<text x="424.30" y="278.40" font-size="14.1" font-weight="bold" text-anchor="end" fill="#000" >3.5E-7</text>
<line x1="429.46" y1="457.40" x2="429.46" y2="455.20" stroke="#000" stroke-width="1.2" />
<line x1="442.70" y1="457.40" x2="442.70" y2="453.40" stroke="#000" stroke-width="1.2" />
<line x1="455.94" y1="457.40" x2="455.94" y2="455.20" stroke="#000" stroke-width="1.2" />
<line x1="469.19" y1="457.40" x2="469.19" y2="453.40" stroke="#000" stroke-width="1.2" />
<line x1="482.43" y1="457.40" x2="482.43" y2="455.20" stroke="#000" stroke-width="1.2" />
<line x1="495.68" y1="457.40" x2="495.68" y2="453.40" stroke="#000" stroke-width="1.2" />
<line x1="508.92" y1="457.40" x2="508.92" y2="455.20" stroke="#000" stroke-width="1.2" />
<line x1="522.16" y1="457.40" x2="522.16" y2="453.40" stroke="#000" stroke-width="1.2" />
<line x1="535.41" y1="457.40" x2="535.41" y2="455.20" stroke="#000" stroke-width="1.2" />
<line x1="548.65" y1="457.40" x2="548.65" y2="453.40" stroke="#000" stroke-width="1.2" />
<line x1="561.89" y1="457.40" x2="561.89" y2="455.20" stroke="#000" stroke-width="1.2" />
<line x1="575.14" y1="457.40" x2="575.14" y2="453.40" stroke="#000" stroke-width="1.2" />
<line x1="588.38" y1="457.40" x2="588.38" y2="455.20" stroke="#000" stroke-width="1.2" />
<line x1="601.62" y1="457.40" x2="601.62" y2="453.40" stroke="#000" stroke-width="1.2" />
<line x1="614.87" y1="457.40" x2="614.87" y2="455.20" stroke="#000" stroke-width="1.2" />
<line x1="628.11" y1="457.40" x2="628.11" y2="453.40" stroke="#000" stroke-width="1.2" />
<line x1="641.36" y1="457.40" x2="641.36" y2="455.20" stroke="#000" stroke-width="1.2" />
<line x1="654.60" y1="457.40" x2="654.60" y2="453.40" stroke="#000" stroke-width="1.2" />
<line x1="667.84" y1="457.40" x2="667.84" y2="455.20" stroke="#000" stroke-width="1.2" />
<text x="442.70" y="472.50" font-size="13.8" font-weight="bold" text-anchor="middle" fill="#000" >0</text>
<text x="469.19" y="472.50" font-size="13.8" font-weight="bold" text-anchor="middle" fill="#000" >60</text>
<text x="495.68" y="472.50" font-size="13.8" font-weight="bold" text-anchor="middle" fill="#000" >120</text>
<text x="522.16" y="472.50" font-size="13.8" font-weight="bold" text-anchor="middle" fill="#000" >180</text>
<text x="548.65" y="472.50" font-size="13.8" font-weight="bold" text-anchor="middle" fill="#000" >240</text>
<text x="575.14" y="472.50" font-size="13.8" font-weight="bold" text-anchor="middle" fill="#000" >300</text>
<text x="601.62" y="472.50" font-size="13.8" font-weight="bold" text-anchor="middle" fill="#000" >360</text>
<text x="628.11" y="472.50" font-size="13.8" font-weight="bold" text-anchor="middle" fill="#000" >420</text>
<text x="654.60" y="472.50" font-size="13.8" font-weight="bold" text-anchor="middle" fill="#000" >480</text>
<text x="575.00" y="495.10" font-size="15" font-weight="bold" text-anchor="middle" fill="#000" >Annealing Time (min)</text>
<text x="375.10" y="368.00" font-size="14.8" font-weight="bold" text-anchor="middle" fill="#000" transform="rotate(-90 375.1 368)" >Contact Resistance (Ω-cm<tspan font-size="10.66" dy="-4.44">2</tspan><tspan dy="4.44">)</tspan></text>
<text x="349.50" y="253.60" font-size="24" font-weight="bold" text-anchor="start" fill="#000" >(d)</text>
<text x="449.50" y="290.00" font-size="10.2" font-weight="bold" text-anchor="start" fill="#000" >Initial ~ 2.54E-7 Ω-cm<tspan font-size="7.34" dy="-3.06">2</tspan></text>
<text x="449.50" y="305.20" font-size="10.2" font-weight="bold" text-anchor="start" fill="#000" >8 hours burn-in ~ 2.64E-7 Ω-cm<tspan font-size="7.34" dy="-3.06">2</tspan></text>
<text x="449.50" y="320.40" font-size="10.2" font-weight="bold" text-anchor="start" fill="#000" >Variation ~ 4 %</text>
<rect x="576.20" y="409.80" width="90.80" height="30.80" fill="#fff" stroke="#000" stroke-width="1.2" />
<line x1="583.70" y1="414.73" x2="583.70" y2="422.73" stroke="#000" stroke-width="1" />
<line x1="580.10" y1="414.73" x2="587.30" y2="414.73" stroke="#000" stroke-width="1" />
<line x1="580.10" y1="422.73" x2="587.30" y2="422.73" stroke="#000" stroke-width="1" />
<circle cx="583.70" cy="431.67" r="2.7" fill="#000"/>
<text x="592.20" y="422.33" font-size="10.2"  text-anchor="start" fill="#000" >Mean ±95% CI</text>
<text x="592.20" y="435.27" font-size="10.2"  text-anchor="start" fill="#000" >Mean</text>
<rect x="600.60" y="278.20" width="58.00" height="11.80" fill="#fff" stroke="#8a8a8a" stroke-width="0.9" />
<line x1="604.20" y1="284.10" x2="625.00" y2="284.10" stroke="#F07D28" stroke-width="1.8" />
<rect x="611.60" y="281.10" width="6" height="6" fill="#F07D28"/>
<text x="626.40" y="287.70" font-size="10" font-weight="bold" text-anchor="start" fill="#000" >Cu-Cu</text>
<rect x="106.49" y="590.85" width="4" height="4" fill="#EE6470"/>
<rect x="108.51" y="590.55" width="4" height="4" fill="#EE6470"/>
<rect x="110.53" y="590.39" width="4" height="4" fill="#EE6470"/>
<rect x="112.55" y="590.03" width="4" height="4" fill="#EE6470"/>
<rect x="114.57" y="590.42" width="4" height="4" fill="#EE6470"/>
<rect x="116.59" y="589.99" width="4" height="4" fill="#EE6470"/>
<rect x="118.61" y="591.86" width="4" height="4" fill="#EE6470"/>
<rect x="120.63" y="590.88" width="4" height="4" fill="#EE6470"/>
<rect x="122.64" y="589.82" width="4" height="4" fill="#EE6470"/>
<rect x="124.66" y="590.40" width="4" height="4" fill="#EE6470"/>
<rect x="126.68" y="589.82" width="4" height="4" fill="#EE6470"/>
<rect x="128.70" y="591.47" width="4" height="4" fill="#EE6470"/>
<rect x="130.72" y="590.66" width="4" height="4" fill="#EE6470"/>
<rect x="132.74" y="591.10" width="4" height="4" fill="#EE6470"/>
<rect x="134.76" y="590.42" width="4" height="4" fill="#EE6470"/>
<rect x="136.78" y="590.31" width="4" height="4" fill="#EE6470"/>
<rect x="138.80" y="591.47" width="4" height="4" fill="#EE6470"/>
<rect x="140.82" y="590.99" width="4" height="4" fill="#EE6470"/>
<rect x="142.84" y="590.81" width="4" height="4" fill="#EE6470"/>
<rect x="144.86" y="589.41" width="4" height="4" fill="#EE6470"/>
<rect x="146.88" y="589.69" width="4" height="4" fill="#EE6470"/>
<rect x="148.89" y="590.95" width="4" height="4" fill="#EE6470"/>
<rect x="150.91" y="589.54" width="4" height="4" fill="#EE6470"/>
<rect x="152.93" y="590.91" width="4" height="4" fill="#EE6470"/>
<rect x="154.95" y="589.84" width="4" height="4" fill="#EE6470"/>
<rect x="156.97" y="590.85" width="4" height="4" fill="#EE6470"/>
<rect x="158.99" y="591.08" width="4" height="4" fill="#EE6470"/>
<rect x="161.01" y="589.17" width="4" height="4" fill="#EE6470"/>
<rect x="163.03" y="590.55" width="4" height="4" fill="#EE6470"/>
<rect x="165.05" y="590.50" width="4" height="4" fill="#EE6470"/>
<rect x="167.07" y="588.81" width="4" height="4" fill="#EE6470"/>
<rect x="169.09" y="589.01" width="4" height="4" fill="#EE6470"/>
<rect x="171.10" y="590.22" width="4" height="4" fill="#EE6470"/>
<rect x="173.12" y="588.73" width="4" height="4" fill="#EE6470"/>
<rect x="175.14" y="589.60" width="4" height="4" fill="#EE6470"/>
<rect x="177.16" y="589.26" width="4" height="4" fill="#EE6470"/>
<rect x="179.18" y="590.23" width="4" height="4" fill="#EE6470"/>
<rect x="181.20" y="588.62" width="4" height="4" fill="#EE6470"/>
<rect x="183.22" y="589.11" width="4" height="4" fill="#EE6470"/>
<rect x="185.24" y="588.48" width="4" height="4" fill="#EE6470"/>
<rect x="187.26" y="588.60" width="4" height="4" fill="#EE6470"/>
<rect x="189.28" y="589.83" width="4" height="4" fill="#EE6470"/>
<rect x="191.30" y="589.66" width="4" height="4" fill="#EE6470"/>
<rect x="193.32" y="590.04" width="4" height="4" fill="#EE6470"/>
<rect x="195.33" y="590.04" width="4" height="4" fill="#EE6470"/>
<rect x="197.35" y="590.17" width="4" height="4" fill="#EE6470"/>
<rect x="199.37" y="589.63" width="4" height="4" fill="#EE6470"/>
<rect x="201.39" y="583.75" width="4" height="4" fill="#EE6470"/>
<rect x="203.41" y="580.22" width="4" height="4" fill="#EE6470"/>
<rect x="205.43" y="579.95" width="4" height="4" fill="#EE6470"/>
<rect x="209.47" y="594.34" width="4" height="4" fill="#EE6470"/>
<rect x="211.49" y="594.55" width="4" height="4" fill="#EE6470"/>
<rect x="213.51" y="587.99" width="4" height="4" fill="#EE6470"/>
<rect x="215.53" y="595.20" width="4" height="4" fill="#EE6470"/>
<rect x="217.55" y="595.99" width="4" height="4" fill="#EE6470"/>
<rect x="219.56" y="595.42" width="4" height="4" fill="#EE6470"/>
<rect x="221.58" y="593.82" width="4" height="4" fill="#EE6470"/>
<rect x="223.60" y="592.81" width="4" height="4" fill="#EE6470"/>
<rect x="225.62" y="591.70" width="4" height="4" fill="#EE6470"/>
<rect x="227.64" y="592.57" width="4" height="4" fill="#EE6470"/>
<rect x="229.66" y="591.59" width="4" height="4" fill="#EE6470"/>
<rect x="231.68" y="592.09" width="4" height="4" fill="#EE6470"/>
<rect x="233.70" y="592.13" width="4" height="4" fill="#EE6470"/>
<rect x="235.72" y="591.38" width="4" height="4" fill="#EE6470"/>
<rect x="237.74" y="591.88" width="4" height="4" fill="#EE6470"/>
<rect x="239.76" y="592.12" width="4" height="4" fill="#EE6470"/>
<rect x="241.78" y="591.88" width="4" height="4" fill="#EE6470"/>
<rect x="243.80" y="591.55" width="4" height="4" fill="#EE6470"/>
<rect x="245.81" y="592.50" width="4" height="4" fill="#EE6470"/>
<rect x="247.83" y="591.15" width="4" height="4" fill="#EE6470"/>
<rect x="249.85" y="592.55" width="4" height="4" fill="#EE6470"/>
<rect x="251.87" y="591.48" width="4" height="4" fill="#EE6470"/>
<rect x="253.89" y="591.34" width="4" height="4" fill="#EE6470"/>
<rect x="255.91" y="592.55" width="4" height="4" fill="#EE6470"/>
<rect x="257.93" y="591.43" width="4" height="4" fill="#EE6470"/>
<rect x="259.95" y="592.04" width="4" height="4" fill="#EE6470"/>
<rect x="261.97" y="591.73" width="4" height="4" fill="#EE6470"/>
<rect x="263.99" y="592.57" width="4" height="4" fill="#EE6470"/>
<rect x="266.01" y="592.51" width="4" height="4" fill="#EE6470"/>
<rect x="268.02" y="592.31" width="4" height="4" fill="#EE6470"/>
<rect x="270.04" y="591.18" width="4" height="4" fill="#EE6470"/>
<rect x="272.06" y="592.29" width="4" height="4" fill="#EE6470"/>
<rect x="274.08" y="591.48" width="4" height="4" fill="#EE6470"/>
<rect x="276.10" y="591.22" width="4" height="4" fill="#EE6470"/>
<rect x="278.12" y="591.20" width="4" height="4" fill="#EE6470"/>
<rect x="280.14" y="592.08" width="4" height="4" fill="#EE6470"/>
<rect x="282.16" y="592.06" width="4" height="4" fill="#EE6470"/>
<rect x="284.18" y="591.81" width="4" height="4" fill="#EE6470"/>
<rect x="286.20" y="591.45" width="4" height="4" fill="#EE6470"/>
<rect x="288.22" y="592.42" width="4" height="4" fill="#EE6470"/>
<rect x="290.24" y="591.49" width="4" height="4" fill="#EE6470"/>
<rect x="292.26" y="591.41" width="4" height="4" fill="#EE6470"/>
<rect x="294.27" y="591.32" width="4" height="4" fill="#EE6470"/>
<rect x="296.29" y="592.53" width="4" height="4" fill="#EE6470"/>
<rect x="298.31" y="591.20" width="4" height="4" fill="#EE6470"/>
<rect x="300.33" y="592.45" width="4" height="4" fill="#EE6470"/>
<rect x="302.35" y="592.08" width="4" height="4" fill="#EE6470"/>
<rect x="304.37" y="591.69" width="4" height="4" fill="#EE6470"/>
<rect x="306.39" y="591.24" width="4" height="4" fill="#EE6470"/>
<rect x="308.41" y="592.08" width="4" height="4" fill="#EE6470"/>
<rect x="88.30" y="513.60" width="242.30" height="194.80" fill="none" stroke="#000" stroke-width="2.3" />
<text x="83.40" y="517.30" font-size="13"  text-anchor="end" fill="#000" stroke="#000" stroke-width="0.4">1E-5</text>
<line x1="88.30" y1="547.64" x2="90.10" y2="547.64" stroke="#000" stroke-width="1" />
<line x1="88.30" y1="539.06" x2="90.10" y2="539.06" stroke="#000" stroke-width="1" />
<line x1="88.30" y1="532.98" x2="90.10" y2="532.98" stroke="#000" stroke-width="1" />
<line x1="88.30" y1="528.26" x2="90.10" y2="528.26" stroke="#000" stroke-width="1" />
<line x1="88.30" y1="524.40" x2="90.10" y2="524.40" stroke="#000" stroke-width="1" />
<line x1="88.30" y1="521.14" x2="90.10" y2="521.14" stroke="#000" stroke-width="1" />
<line x1="88.30" y1="518.32" x2="90.10" y2="518.32" stroke="#000" stroke-width="1" />
<line x1="88.30" y1="515.83" x2="90.10" y2="515.83" stroke="#000" stroke-width="1" />
<line x1="88.30" y1="562.30" x2="91.80" y2="562.30" stroke="#000" stroke-width="1.4" />
<text x="83.40" y="566.00" font-size="13"  text-anchor="end" fill="#000" stroke="#000" stroke-width="0.4">1E-6</text>
<line x1="88.30" y1="596.34" x2="90.10" y2="596.34" stroke="#000" stroke-width="1" />
<line x1="88.30" y1="587.76" x2="90.10" y2="587.76" stroke="#000" stroke-width="1" />
<line x1="88.30" y1="581.68" x2="90.10" y2="581.68" stroke="#000" stroke-width="1" />
<line x1="88.30" y1="576.96" x2="90.10" y2="576.96" stroke="#000" stroke-width="1" />
<line x1="88.30" y1="573.10" x2="90.10" y2="573.10" stroke="#000" stroke-width="1" />
<line x1="88.30" y1="569.84" x2="90.10" y2="569.84" stroke="#000" stroke-width="1" />
<line x1="88.30" y1="567.02" x2="90.10" y2="567.02" stroke="#000" stroke-width="1" />
<line x1="88.30" y1="564.53" x2="90.10" y2="564.53" stroke="#000" stroke-width="1" />
<line x1="88.30" y1="611.00" x2="91.80" y2="611.00" stroke="#000" stroke-width="1.4" />
<text x="83.40" y="614.70" font-size="13"  text-anchor="end" fill="#000" stroke="#000" stroke-width="0.4">1E-7</text>
<line x1="88.30" y1="645.04" x2="90.10" y2="645.04" stroke="#000" stroke-width="1" />
<line x1="88.30" y1="636.46" x2="90.10" y2="636.46" stroke="#000" stroke-width="1" />
<line x1="88.30" y1="630.38" x2="90.10" y2="630.38" stroke="#000" stroke-width="1" />
<line x1="88.30" y1="625.66" x2="90.10" y2="625.66" stroke="#000" stroke-width="1" />
<line x1="88.30" y1="621.80" x2="90.10" y2="621.80" stroke="#000" stroke-width="1" />
<line x1="88.30" y1="618.54" x2="90.10" y2="618.54" stroke="#000" stroke-width="1" />
<line x1="88.30" y1="615.72" x2="90.10" y2="615.72" stroke="#000" stroke-width="1" />
<line x1="88.30" y1="613.23" x2="90.10" y2="613.23" stroke="#000" stroke-width="1" />
<line x1="88.30" y1="659.70" x2="91.80" y2="659.70" stroke="#000" stroke-width="1.4" />
<text x="83.40" y="663.40" font-size="13"  text-anchor="end" fill="#000" stroke="#000" stroke-width="0.4">1E-8</text>
<line x1="88.30" y1="693.74" x2="90.10" y2="693.74" stroke="#000" stroke-width="1" />
<line x1="88.30" y1="685.16" x2="90.10" y2="685.16" stroke="#000" stroke-width="1" />
<line x1="88.30" y1="679.08" x2="90.10" y2="679.08" stroke="#000" stroke-width="1" />
<line x1="88.30" y1="674.36" x2="90.10" y2="674.36" stroke="#000" stroke-width="1" />
<line x1="88.30" y1="670.50" x2="90.10" y2="670.50" stroke="#000" stroke-width="1" />
<line x1="88.30" y1="667.24" x2="90.10" y2="667.24" stroke="#000" stroke-width="1" />
<line x1="88.30" y1="664.42" x2="90.10" y2="664.42" stroke="#000" stroke-width="1" />
<line x1="88.30" y1="661.93" x2="90.10" y2="661.93" stroke="#000" stroke-width="1" />
<text x="83.40" y="712.10" font-size="13"  text-anchor="end" fill="#000" stroke="#000" stroke-width="0.4">1E-9</text>
<line x1="108.49" y1="708.40" x2="108.49" y2="706.40" stroke="#000" stroke-width="1.4" />
<line x1="128.68" y1="708.40" x2="128.68" y2="704.90" stroke="#000" stroke-width="1.4" />
<line x1="148.88" y1="708.40" x2="148.88" y2="706.40" stroke="#000" stroke-width="1.4" />
<line x1="169.07" y1="708.40" x2="169.07" y2="704.90" stroke="#000" stroke-width="1.4" />
<line x1="189.26" y1="708.40" x2="189.26" y2="706.40" stroke="#000" stroke-width="1.4" />
<line x1="209.45" y1="708.40" x2="209.45" y2="704.90" stroke="#000" stroke-width="1.4" />
<line x1="229.64" y1="708.40" x2="229.64" y2="706.40" stroke="#000" stroke-width="1.4" />
<line x1="249.83" y1="708.40" x2="249.83" y2="704.90" stroke="#000" stroke-width="1.4" />
<line x1="270.02" y1="708.40" x2="270.02" y2="706.40" stroke="#000" stroke-width="1.4" />
<line x1="290.22" y1="708.40" x2="290.22" y2="704.90" stroke="#000" stroke-width="1.4" />
<line x1="310.41" y1="708.40" x2="310.41" y2="706.40" stroke="#000" stroke-width="1.4" />
<text x="88.30" y="723.20" font-size="13.3" font-weight="bold" text-anchor="middle" fill="#000" >-0.06</text>
<text x="128.68" y="723.20" font-size="13.3" font-weight="bold" text-anchor="middle" fill="#000" >-0.04</text>
<text x="169.07" y="723.20" font-size="13.3" font-weight="bold" text-anchor="middle" fill="#000" >-0.02</text>
<text x="209.45" y="723.20" font-size="13.3" font-weight="bold" text-anchor="middle" fill="#000" >0.00</text>
<text x="249.83" y="723.20" font-size="13.3" font-weight="bold" text-anchor="middle" fill="#000" >0.02</text>
<text x="290.22" y="723.20" font-size="13.3" font-weight="bold" text-anchor="middle" fill="#000" >0.04</text>
<text x="330.60" y="723.20" font-size="13.3" font-weight="bold" text-anchor="middle" fill="#000" >0.06</text>
<text x="209.10" y="745.40" font-size="14.6" font-weight="bold" text-anchor="middle" fill="#000" >Current (A)</text>
<text x="51.40" y="610.90" font-size="14.8" font-weight="bold" text-anchor="middle" fill="#000" transform="rotate(-90 51.4 610.9)" >Contact Resistance (Ω · cm<tspan font-size="10.66" dy="-4.44">2</tspan><tspan dy="4.44">)</tspan></text>
<text x="0.60" y="515.20" font-size="24" font-weight="bold" text-anchor="start" fill="#000" >(e)</text>
<text x="99.80" y="535.30" font-size="10.3" font-weight="bold" text-anchor="start" fill="#000" >Initial ~ 2.20E-7 Ω-cm<tspan font-size="7.42" dy="-3.09">2</tspan></text>
<text x="99.80" y="549.70" font-size="10.3" font-weight="bold" text-anchor="start" fill="#000" >30 min burn-in ~ 2.34E-7 Ω-cm<tspan font-size="7.42" dy="-3.09">2</tspan></text>
<text x="99.80" y="564.70" font-size="10.3" font-weight="bold" text-anchor="start" fill="#000" >Variation ~ 6 %</text>
<rect x="424.20" y="604.10" width="17.60" height="101.40" fill="#F8200E" stroke="#2a0a00" stroke-width="0.8" />
<rect x="441.80" y="627.65" width="17.60" height="77.85" fill="#EE8048" stroke="#2a0a00" stroke-width="0.8" />
<rect x="477.85" y="565.70" width="17.60" height="139.80" fill="#F8200E" stroke="#2a0a00" stroke-width="0.8" />
<rect x="495.45" y="625.70" width="17.60" height="79.80" fill="#EE8048" stroke="#2a0a00" stroke-width="0.8" />
<rect x="531.50" y="549.35" width="17.60" height="156.15" fill="#F8200E" stroke="#2a0a00" stroke-width="0.8" />
<rect x="549.10" y="628.10" width="17.60" height="77.40" fill="#EE8048" stroke="#2a0a00" stroke-width="0.8" />
<rect x="585.15" y="561.05" width="17.60" height="144.45" fill="#F8200E" stroke="#2a0a00" stroke-width="0.8" />
<rect x="602.75" y="633.95" width="17.60" height="71.55" fill="#EE8048" stroke="#2a0a00" stroke-width="0.8" />
<rect x="638.80" y="564.95" width="17.60" height="140.55" fill="#F8200E" stroke="#2a0a00" stroke-width="0.8" />
<rect x="656.40" y="655.70" width="17.60" height="49.80" fill="#EE8048" stroke="#2a0a00" stroke-width="0.8" />
<line x1="433.00" y1="580.85" x2="433.00" y2="628.10" stroke="#000" stroke-width="2.2" />
<line x1="430.40" y1="580.85" x2="435.60" y2="580.85" stroke="#000" stroke-width="2.2" />
<line x1="430.40" y1="628.10" x2="435.60" y2="628.10" stroke="#000" stroke-width="2.2" />
<line x1="450.60" y1="606.35" x2="450.60" y2="648.95" stroke="#000" stroke-width="2.2" />
<line x1="448.00" y1="606.35" x2="453.20" y2="606.35" stroke="#000" stroke-width="2.2" />
<line x1="448.00" y1="648.95" x2="453.20" y2="648.95" stroke="#000" stroke-width="2.2" />
<line x1="486.65" y1="550.55" x2="486.65" y2="581.60" stroke="#000" stroke-width="2.2" />
<line x1="484.05" y1="550.55" x2="489.25" y2="550.55" stroke="#000" stroke-width="2.2" />
<line x1="484.05" y1="581.60" x2="489.25" y2="581.60" stroke="#000" stroke-width="2.2" />
<line x1="504.25" y1="595.85" x2="504.25" y2="655.70" stroke="#000" stroke-width="2.2" />
<line x1="501.65" y1="595.85" x2="506.85" y2="595.85" stroke="#000" stroke-width="2.2" />
<line x1="501.65" y1="655.70" x2="506.85" y2="655.70" stroke="#000" stroke-width="2.2" />
<line x1="540.30" y1="515.75" x2="540.30" y2="583.55" stroke="#000" stroke-width="2.2" />
<line x1="537.70" y1="515.75" x2="542.90" y2="515.75" stroke="#000" stroke-width="2.2" />
<line x1="537.70" y1="583.55" x2="542.90" y2="583.55" stroke="#000" stroke-width="2.2" />
<line x1="557.90" y1="618.20" x2="557.90" y2="638.75" stroke="#000" stroke-width="2.2" />
<line x1="555.30" y1="618.20" x2="560.50" y2="618.20" stroke="#000" stroke-width="2.2" />
<line x1="555.30" y1="638.75" x2="560.50" y2="638.75" stroke="#000" stroke-width="2.2" />
<line x1="593.95" y1="548.45" x2="593.95" y2="574.10" stroke="#000" stroke-width="2.2" />
<line x1="591.35" y1="548.45" x2="596.55" y2="548.45" stroke="#000" stroke-width="2.2" />
<line x1="591.35" y1="574.10" x2="596.55" y2="574.10" stroke="#000" stroke-width="2.2" />
<line x1="611.55" y1="613.10" x2="611.55" y2="654.95" stroke="#000" stroke-width="2.2" />
<line x1="608.95" y1="613.10" x2="614.15" y2="613.10" stroke="#000" stroke-width="2.2" />
<line x1="608.95" y1="654.95" x2="614.15" y2="654.95" stroke="#000" stroke-width="2.2" />
<line x1="647.60" y1="541.40" x2="647.60" y2="588.65" stroke="#000" stroke-width="2.2" />
<line x1="645.00" y1="541.40" x2="650.20" y2="541.40" stroke="#000" stroke-width="2.2" />
<line x1="645.00" y1="588.65" x2="650.20" y2="588.65" stroke="#000" stroke-width="2.2" />
<line x1="665.20" y1="639.95" x2="665.20" y2="671.45" stroke="#000" stroke-width="2.2" />
<line x1="662.60" y1="639.95" x2="667.80" y2="639.95" stroke="#000" stroke-width="2.2" />
<line x1="662.60" y1="671.45" x2="667.80" y2="671.45" stroke="#000" stroke-width="2.2" />
<rect x="415.30" y="510.80" width="267.00" height="194.70" fill="none" stroke="#000" stroke-width="1.6" />
<text x="410.20" y="708.90" font-size="15" font-weight="bold" text-anchor="end" fill="#000" >0</text>
<line x1="415.30" y1="683.00" x2="417.50" y2="683.00" stroke="#000" stroke-width="1.2" />
<line x1="415.30" y1="660.50" x2="419.30" y2="660.50" stroke="#000" stroke-width="1.2" />
<text x="410.20" y="663.90" font-size="15" font-weight="bold" text-anchor="end" fill="#000" >300</text>
<line x1="415.30" y1="638.00" x2="417.50" y2="638.00" stroke="#000" stroke-width="1.2" />
<line x1="415.30" y1="615.50" x2="419.30" y2="615.50" stroke="#000" stroke-width="1.2" />
<text x="410.20" y="618.90" font-size="15" font-weight="bold" text-anchor="end" fill="#000" >600</text>
<line x1="415.30" y1="593.00" x2="417.50" y2="593.00" stroke="#000" stroke-width="1.2" />
<line x1="415.30" y1="570.50" x2="419.30" y2="570.50" stroke="#000" stroke-width="1.2" />
<text x="410.20" y="573.90" font-size="15" font-weight="bold" text-anchor="end" fill="#000" >900</text>
<line x1="415.30" y1="548.00" x2="417.50" y2="548.00" stroke="#000" stroke-width="1.2" />
<line x1="415.30" y1="525.50" x2="419.30" y2="525.50" stroke="#000" stroke-width="1.2" />
<text x="410.20" y="528.90" font-size="15" font-weight="bold" text-anchor="end" fill="#000" >1200</text>
<text x="441.80" y="720.60" font-size="15" font-weight="bold" text-anchor="middle" fill="#000" >0</text>
<text x="495.45" y="720.60" font-size="15" font-weight="bold" text-anchor="middle" fill="#000" >60</text>
<text x="549.10" y="720.60" font-size="15" font-weight="bold" text-anchor="middle" fill="#000" >120</text>
<text x="602.75" y="720.60" font-size="15" font-weight="bold" text-anchor="middle" fill="#000" >180</text>
<text x="656.40" y="720.60" font-size="15" font-weight="bold" text-anchor="middle" fill="#000" >240</text>
<text x="549.10" y="735.20" font-size="14.7" font-weight="bold" text-anchor="middle" fill="#000" >Annealing time (min)</text>
<text x="377.20" y="616.70" font-size="14.8" font-weight="bold" text-anchor="middle" fill="#000" transform="rotate(-90 377.2 616.7)" >Bonding strength (N)</text>
<text x="353.80" y="515.00" font-size="23.5" font-weight="bold" text-anchor="start" fill="#000" >(f)</text>
<rect x="428.90" y="516.30" width="90.70" height="30.70" fill="#fff" stroke="#000" stroke-width="1.2" />
<line x1="436.40" y1="521.20" x2="436.40" y2="529.20" stroke="#000" stroke-width="1" />
<line x1="432.80" y1="521.20" x2="440.00" y2="521.20" stroke="#000" stroke-width="1" />
<line x1="432.80" y1="529.20" x2="440.00" y2="529.20" stroke="#000" stroke-width="1" />
<circle cx="436.40" cy="538.10" r="2.7" fill="#000"/>
<text x="444.90" y="528.80" font-size="10.2"  text-anchor="start" fill="#000" >Mean ±95% CI</text>
<text x="444.90" y="541.70" font-size="10.2"  text-anchor="start" fill="#000" >Mean</text>
<rect x="557.50" y="517.50" width="20.10" height="8.90" fill="#F8200E" stroke="#300" stroke-width="0.8" />
<rect x="557.50" y="533.60" width="20.10" height="8.90" fill="#EE8048" stroke="#300" stroke-width="0.8" />
<text x="582.10" y="524.80" font-size="13" font-weight="bold" text-anchor="start" fill="#000" >Ag Passivation</text>
<text x="582.10" y="541.10" font-size="13" font-weight="bold" text-anchor="start" fill="#000" >Cu</text>
</g></svg>
</body></html>
